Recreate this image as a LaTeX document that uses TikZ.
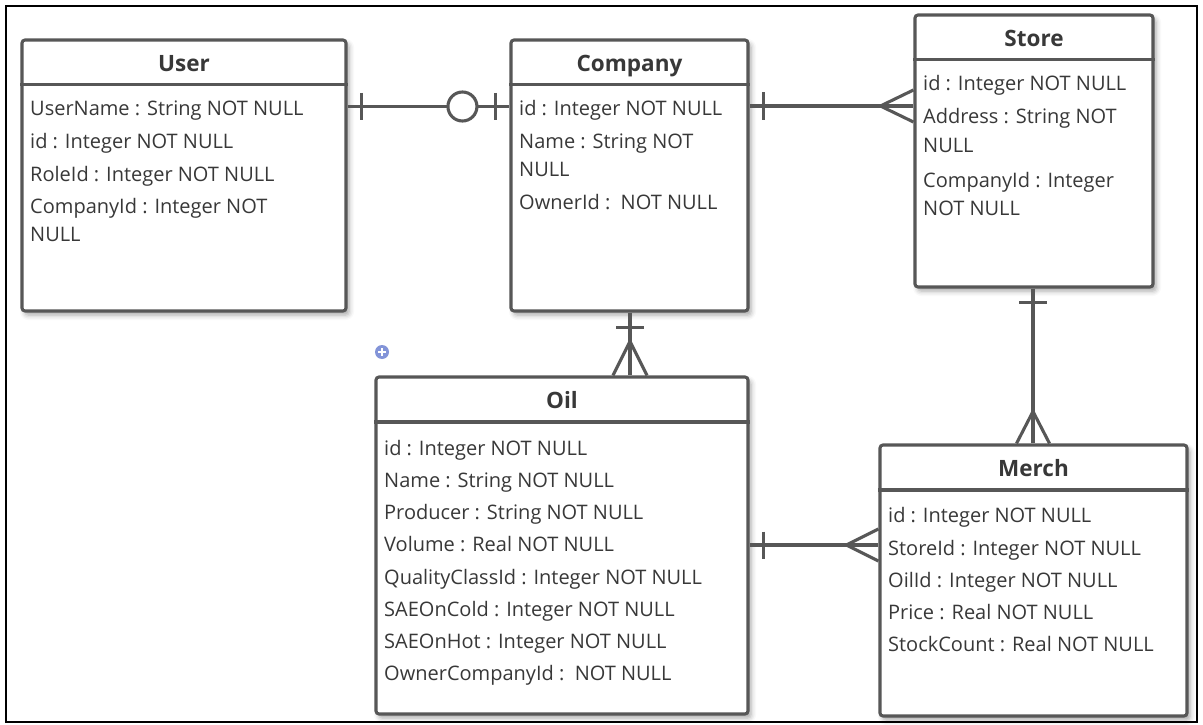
\documentclass[tikz,border=0pt]{standalone}
\usepackage{fontspec}
\setmainfont{Open Sans}
\usetikzlibrary{shadows.blur,calc}
\definecolor{edge}{HTML}{575757}
\definecolor{ink}{HTML}{383838}
\definecolor{plusblue}{HTML}{8394D8}

\begin{document}
\begin{tikzpicture}[x=1pt,y=-1pt,
  tbl/.style={draw=edge, line width=3.1pt, rounded corners=3pt, fill=white,
    inner sep=0pt,
    blur shadow={shadow xshift=3pt, shadow yshift=-4pt,
      shadow blur radius=5pt, shadow opacity=35}},
  ttl/.style={anchor=base, font=\fontsize{22.5}{26}\selectfont\bfseries,
    text=ink, inner sep=0pt},
  fld/.style={anchor=base west, font=\fontsize{20}{24}\selectfont,
    text=ink, inner sep=0pt},
  rel/.style={draw=edge, line width=3.1pt},
  hdr/.style={draw=edge, line width=3.1pt},
]
\useasboundingbox (0,0) rectangle (1203,725);
\draw[black, line width=1.4pt] (6,6) rectangle (1197,722);

% ---- tables ----
\node[tbl, minimum width=324pt, minimum height=271pt] (user)    at (184,175.5)  {};
\node[tbl, minimum width=237pt, minimum height=271pt] (company) at (629.5,175.5) {};
\node[tbl, minimum width=238pt, minimum height=272pt] (store)   at (1034,151)   {};
\node[tbl, minimum width=372pt, minimum height=337pt] (oil)     at (562,545.5)  {};
\node[tbl, minimum width=307pt, minimum height=271pt] (merch)   at (1033.5,580.5) {};

% header separators
\foreach \t in {user,company,store,oil,merch}
  \draw[hdr] ($(\t.north west)+(0,46.5)$) -- ($(\t.north east)+(0,46.5)$);

% titles
\node[ttl] (userT)    at ($(user.north)+(0,33.5)$)    {User};
\node[ttl] (companyT) at ($(company.north)+(0,33.5)$) {Company};
\node[ttl] (storeT)   at ($(store.north)+(0,33)$)     {Store};
\node[ttl] (oilT)     at ($(oil.north)+(0,33.5)$)     {Oil};
\node[ttl] (merchT)   at ($(merch.north)+(0,33.5)$)   {Merch};

% User fields
\node[fld] (u1) at (30,116) {UserName : String NOT NULL};
\node[fld] (u2) at (30,148) {id : Integer NOT NULL};
\node[fld] (u3) at (30,181) {RoleId : Integer NOT NULL};
\node[fld] (u4) at (30,213) {CompanyId : Integer NOT};
\node[fld] (u5) at (30,241) {NULL};

% Company fields
\node[fld] (c1) at (519,116) {id : Integer NOT NULL};
\node[fld] (c2) at (519,148) {Name : String NOT};
\node[fld] (c3) at (519,176) {NULL};
\node[fld] (c4) at (519,209) {OwnerId :\ \ NOT NULL};

% Store fields
\node[fld] (s1) at (923,91)  {id : Integer NOT NULL};
\node[fld] (s2) at (923,124) {Address : String NOT};
\node[fld] (s3) at (923,152) {NULL};
\node[fld] (s4) at (923,187) {CompanyId : Integer};
\node[fld] (s5) at (923,215) {NOT NULL};

% Oil fields
\node[fld] (o1) at (384,455) {id : Integer NOT NULL};
\node[fld] (o2) at (384,487) {Name : String NOT NULL};
\node[fld] (o3) at (384,519) {Producer : String NOT NULL};
\node[fld] (o4) at (384,551) {Volume : Real NOT NULL};
\node[fld] (o5) at (384,584) {QualityClassId : Integer NOT NULL};
\node[fld] (o6) at (384,616) {SAEOnCold : Integer NOT NULL};
\node[fld] (o7) at (384,648) {SAEOnHot : Integer NOT NULL};
\node[fld] (o8) at (384,680) {OwnerCompanyId :\ \ NOT NULL};

% Merch fields
\node[fld] (m1) at (888,522) {id : Integer NOT NULL};
\node[fld] (m2) at (888,555) {StoreId : Integer NOT NULL};
\node[fld] (m3) at (888,587) {OilId : Integer NOT NULL};
\node[fld] (m4) at (888,619) {Price : Real NOT NULL};
\node[fld] (m5) at (888,651) {StockCount : Real NOT NULL};

% ---- relationships ----
\coordinate (yUC) at (0,106.5);
\coordinate (yCS) at (0,106);
\coordinate (xCO) at (630,0);
\coordinate (xSM) at (1033,0);
\coordinate (yOM) at (0,545);

% User -- Company (one and only one / zero or one)
\draw[rel] (user.east |- yUC) -- (company.west |- yUC);
\draw[rel] ($(user.east |- yUC)+(14,-13.5)$) -- ++(0,27);
\draw[rel] ($(company.west |- yUC)+(-14,-13.5)$) -- ++(0,27);
\node[circle, draw=edge, line width=3.1pt, fill=white, minimum size=29pt,
  inner sep=0pt] (opt) at ($(company.west |- yUC)+(-47,0)$) {};

% Company -- Store (one to many)
\draw[rel] (company.east |- yCS) -- (store.west |- yCS);
\draw[rel] ($(company.east |- yCS)+(14,-13.5)$) -- ++(0,27);
\draw[rel] ($(store.west |- yCS)+(0,-16)$) -- ($(store.west |- yCS)+(-33,0)$)
  -- ($(store.west |- yCS)+(0,16)$);

% Company -- Oil (one to many)
\draw[rel] (company.south -| xCO) -- (oil.north -| xCO);
\draw[rel] ($(company.south -| xCO)+(-14,14.5)$) -- ++(28,0);
\draw[rel] ($(oil.north -| xCO)+(-17,0)$) -- ($(oil.north -| xCO)+(0,-34)$)
  -- ($(oil.north -| xCO)+(17,0)$);

% Store -- Merch (one to many)
\draw[rel] (store.south -| xSM) -- (merch.north -| xSM);
\draw[rel] ($(store.south -| xSM)+(-14,14)$) -- ++(28,0);
\draw[rel] ($(merch.north -| xSM)+(-16.5,0)$) -- ($(merch.north -| xSM)+(0,-32)$)
  -- ($(merch.north -| xSM)+(16.5,0)$);

% Oil -- Merch (one to many)
\draw[rel] (oil.east |- yOM) -- (merch.west |- yOM);
\draw[rel] ($(oil.east |- yOM)+(14,-13.5)$) -- ++(0,27);
\draw[rel] ($(merch.west |- yOM)+(0,-16)$) -- ($(merch.west |- yOM)+(-32,0)$)
  -- ($(merch.west |- yOM)+(0,16)$);

% expand marker
\node[circle, fill=plusblue, minimum size=14pt, inner sep=0pt] (plus) at (382,352) {};
\draw[white, line width=2pt] ($(plus)+(-4,0)$) -- ($(plus)+(4,0)$);
\draw[white, line width=2pt] ($(plus)+(0,-4)$) -- ($(plus)+(0,4)$);
\end{tikzpicture}
\end{document}
